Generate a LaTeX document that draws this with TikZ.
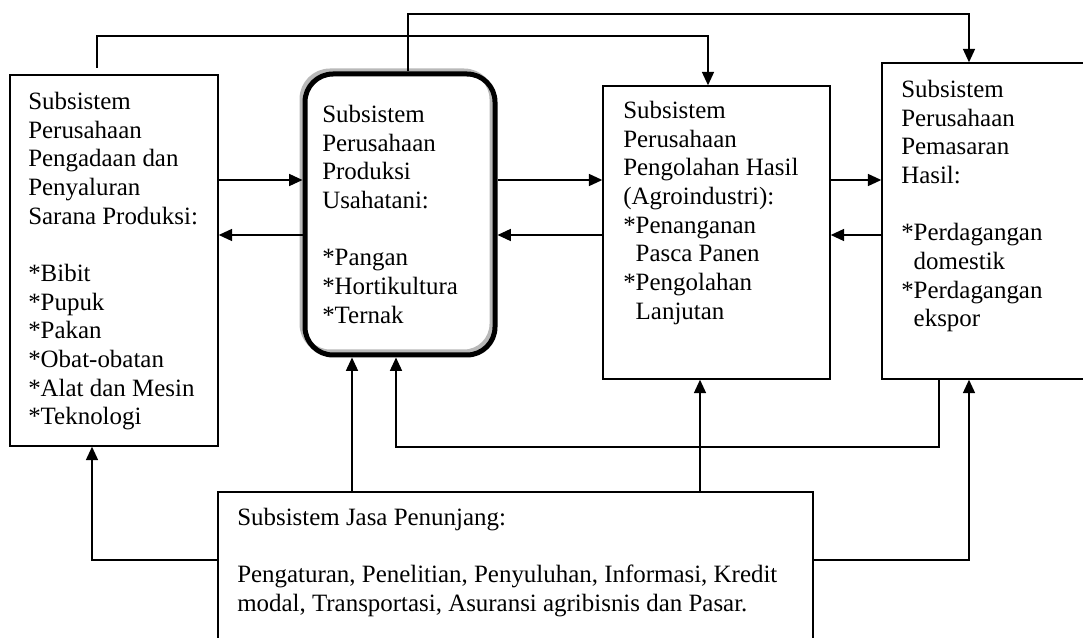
\documentclass[tikz,border=0pt]{standalone}
\usepackage{fontspec}
\setmainfont{Liberation Serif}
\usetikzlibrary{arrows.meta,fit}

\tikzset{
  kotak/.style={draw, line width=1.1pt, inner sep=0pt},
  isi/.style={anchor=north west, align=left, inner sep=0pt, font=\fontsize{18.7pt}{21.5pt}\selectfont},
  panah/.style={->, line width=1.1pt},
}

\begin{document}
\begin{tikzpicture}[x=0.75pt, y=-0.75pt, >={Triangle[length=10pt,width=9pt]}]
    \clip (0,0) rectangle (1083,638);
    % kotak subsistem
    \draw[gray!55, line width=3.75pt, rounded corners=21pt] (302,71) rectangle (492,352);
    \node[kotak, fit={(10,75) (218,446)}] (sarana) {};
    \node[kotak, line width=3.75pt, rounded corners=21pt, fit={(305,74) (495,355)}] (usahatani) {};
    \node[kotak, fit={(603,86) (830,379)}] (olah) {};
    \node[kotak, fit={(882,63) (1110,379)}] (pasar) {};
    \node[kotak, fit={(218,492) (813,670)}] (jasa) {};
    % teks
    \node[isi] (tsarana) at (28,92) {Subsistem\\Perusahaan\\Pengadaan dan\\Penyaluran\\Sarana Produksi:\\ ~\\*Bibit\\*Pupuk\\*Pakan\\*Obat-obatan\\*Alat dan Mesin\\*Teknologi};
    \node[isi] (tusahatani) at (322,105) {Subsistem\\Perusahaan\\Produksi\\Usahatani:\\ ~\\*Pangan\\*Hortikultura\\*Ternak};
    \node[isi] (tolah) at (623,101) {Subsistem\\Perusahaan\\Pengolahan Hasil\\(Agroindustri):\\*Penanganan\\\phantom{*}Pasca Panen\\*Pengolahan\\\phantom{*}Lanjutan};
    \node[isi] (tpasar) at (901,80) {Subsistem\\Perusahaan\\Pemasaran\\Hasil:\\ ~\\*Perdagangan\\\phantom{*}domestik\\*Perdagangan\\\phantom{*}ekspor};
    \node[isi] (tjasa) at (237,508) {Subsistem Jasa Penunjang:\\ ~\\Pengaturan, Penelitian, Penyuluhan, Informasi, Kredit\\modal, Transportasi, Asuransi agribisnis dan Pasar.};
    % arus bolak-balik antar kotak
    \coordinate (kanan) at (0,180);
    \coordinate (kiri) at (0,235);
    \foreach \a/\b in {sarana/usahatani, usahatani/olah, olah/pasar} {
      \draw[panah] (\a.east |- kanan) -- (\b.west |- kanan);
      \draw[panah] (\b.west |- kiri) -- (\a.east |- kiri);
    }
    % garis atas
    \coordinate (t1) at (97,68);
    \coordinate (k1) at (708,36);
    \coordinate (c2) at (408,0);
    \coordinate (k2) at (969,14);
    \draw[panah] (t1) |- (k1) -- (olah.north -| k1);
    \draw[panah] (usahatani.north -| c2) |- (k2) -- (pasar.north -| k2);
    % garis bawah dari jasa penunjang
    \coordinate (m) at (0,560);
    \coordinate (c3) at (92,0);
    \coordinate (c4) at (352,0);
    \coordinate (c5) at (939,447);
    \coordinate (c6) at (396,0);
    \coordinate (c7) at (700,0);
    \draw[panah] (jasa.west |- m) -| (sarana.south -| c3);
    \draw[panah] (jasa.north -| c4) -- (usahatani.south -| c4);
    \draw[panah] (pasar.south -| c5) |- (c6 |- c5) -- (usahatani.south -| c6);
    \draw[panah] (jasa.north -| c7) -- (olah.south -| c7);
    \draw[panah] (jasa.east |- m) -| (pasar.south -| k2);
\end{tikzpicture}
\end{document}
